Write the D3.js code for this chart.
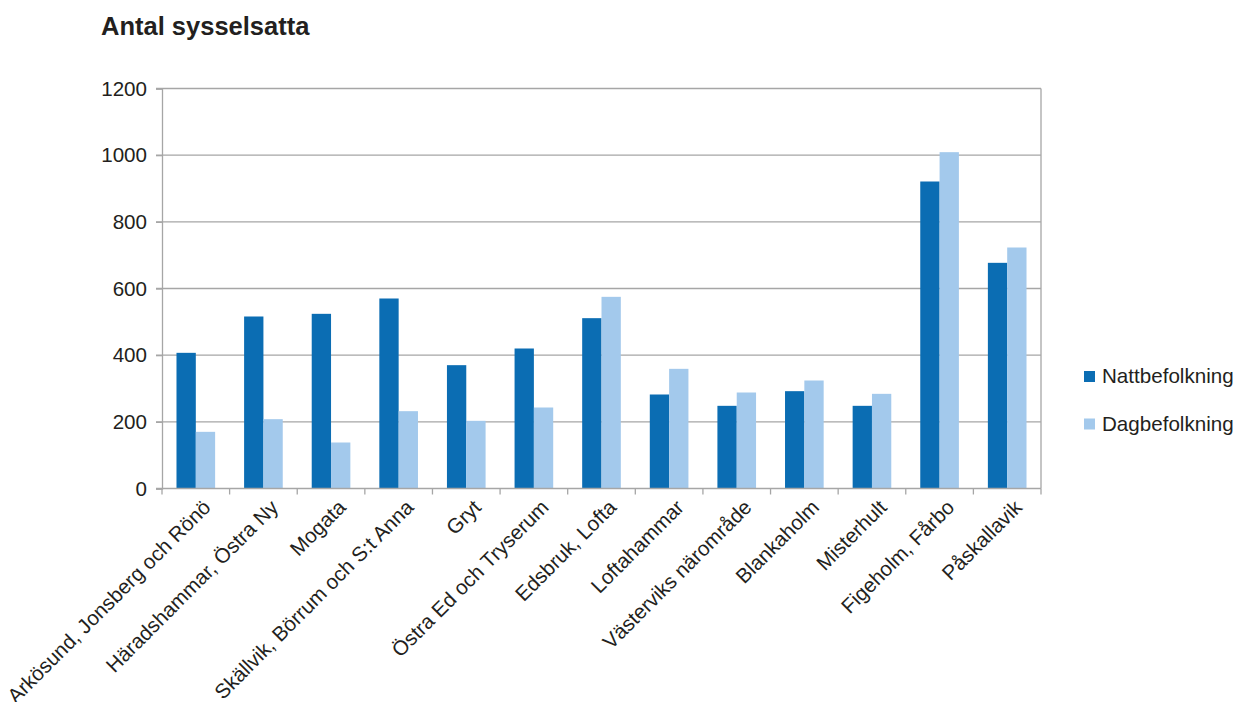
<!DOCTYPE html>
<html>
<head>
<meta charset="utf-8">
<script src="https://cdn.jsdelivr.net/npm/d3@7"></script>
<style>
  body { margin: 0; background: #fff; }
  text { font-family: "Liberation Sans", Arial, sans-serif; fill: #231f20; }
</style>
</head>
<body>
<div id="chart"></div>
<script>
/* global d3*/

let categories = ['Arkösund, Jonsberg och Rönö', 'Häradshammar, Östra Ny', 'Mogata',
  'Skällvik, Börrum och S:t Anna', 'Gryt', 'Östra Ed och Tryserum', 'Edsbruk, Lofta',
  'Loftahammar', 'Västerviks närområde', 'Blankaholm', 'Misterhult', 'Figeholm, Fårbo', 'Påskallavik'];
let series = ['Nattbefolkning', 'Dagbefolkning'];
let natt = [407, 516, 524, 570, 370, 420, 511, 282, 248, 292, 248, 921, 677];
let dag = [170, 208, 138, 232, 203, 243, 575, 359, 288, 324, 284, 1009, 723];
let yTicks = [0, 200, 400, 600, 800, 1000, 1200];
let colors = ['#0b6db3', '#a3c9ec'];

let width = 1238, height = 702;
let margin = { top: 88.5, right: 197, bottom: 213.5, left: 162 };
let w = width - margin.left - margin.right;
let h = height - margin.top - margin.bottom;
let fs = '20.6px';

let svg = d3.select('#chart')
  .append('svg')
  .attr('width', width)
  .attr('height', height);

svg.append('text')
  .attr('x', 101)
  .attr('y', 35)
  .style('font-size', '25.5px')
  .style('font-weight', 'bold')
  .text('Antal sysselsatta');

let g = svg.append('g')
  .attr('transform', 'translate(' + margin.left + ',' + margin.top + ')');

// scales
let x0 = d3.scaleBand().domain(categories).range([0, w]).padding(0);
let x1 = d3.scaleBand().domain(series).range([0, x0.bandwidth()])
  .paddingInner(0).paddingOuter(0.75);
let y = d3.scaleLinear().domain([0, 1200]).range([h, 0]);

// gridlines
g.selectAll('line.grid')
  .data(yTicks.filter(d => d > 0))
  .enter()
  .append('line')
  .attr('class', 'grid')
  .attr('x1', -6)
  .attr('x2', w)
  .attr('y1', d => y(d))
  .attr('y2', d => y(d))
  .attr('stroke', '#a6a6a6')
  .attr('stroke-width', 1.3);

// right border
g.append('line')
  .attr('x1', w).attr('x2', w)
  .attr('y1', 0).attr('y2', h)
  .attr('stroke', '#a6a6a6')
  .attr('stroke-width', 1.3);

// bars
let rows = categories.map((c, i) => ({ cat: c, vals: [natt[i], dag[i]] }));
let groups = g.selectAll('g.cat')
  .data(rows)
  .enter()
  .append('g')
  .attr('transform', d => 'translate(' + x0(d.cat) + ',0)');
groups.selectAll('rect')
  .data(d => d.vals.map((v, j) => ({ s: series[j], v: v, j: j })))
  .enter()
  .append('rect')
  .attr('x', d => x1(d.s))
  .attr('width', x1.bandwidth())
  .attr('y', d => y(d.v))
  .attr('height', d => h - y(d.v))
  .attr('fill', d => colors[d.j]);

// y axis
let yAxis = g.append('g')
  .call(d3.axisLeft(y).tickValues(yTicks).tickSize(6).tickPadding(9).tickFormat(d3.format('d')));
yAxis.select('.domain').attr('stroke', '#a6a6a6').attr('stroke-width', 1.3);
yAxis.selectAll('.tick line').attr('stroke', '#a6a6a6').attr('stroke-width', 1.3);
yAxis.selectAll('.tick text')
  .style('font-size', fs)
  .style('font-family', '"Liberation Sans", Arial, sans-serif')
  .attr('fill', '#231f20');

// x axis
let xAxisG = g.append('g').attr('transform', 'translate(0,' + h + ')');
xAxisG.append('line')
  .attr('x1', -6).attr('x2', w)
  .attr('stroke', '#a6a6a6')
  .attr('stroke-width', 1.3);
let edges = categories.map(c => x0(c)).concat([w]);
xAxisG.selectAll('line.tick')
  .data(edges)
  .enter()
  .append('line')
  .attr('class', 'tick')
  .attr('x1', d => d).attr('x2', d => d)
  .attr('y1', 0).attr('y2', 6)
  .attr('stroke', '#a6a6a6')
  .attr('stroke-width', 1.3);
xAxisG.selectAll('text.lab')
  .data(categories)
  .enter()
  .append('text')
  .attr('class', 'lab')
  .attr('transform', d => 'translate(' + (x0(d) + x0.bandwidth() / 2 + 11) + ',15) rotate(-45)')
  .attr('dy', '0.35em')
  .style('text-anchor', 'end')
  .style('font-size', fs)
  .text(d => d);

// legend
let legend = svg.append('g');
series.forEach((s, i) => {
  legend.append('rect')
    .attr('x', 1084)
    .attr('y', 371 + i * 47.5)
    .attr('width', 11)
    .attr('height', 11)
    .attr('fill', colors[i]);
  legend.append('text')
    .attr('x', 1102)
    .attr('y', 383 + i * 47.5)
    .style('font-size', fs)
    .text(s);
});
</script>
</body>
</html>
